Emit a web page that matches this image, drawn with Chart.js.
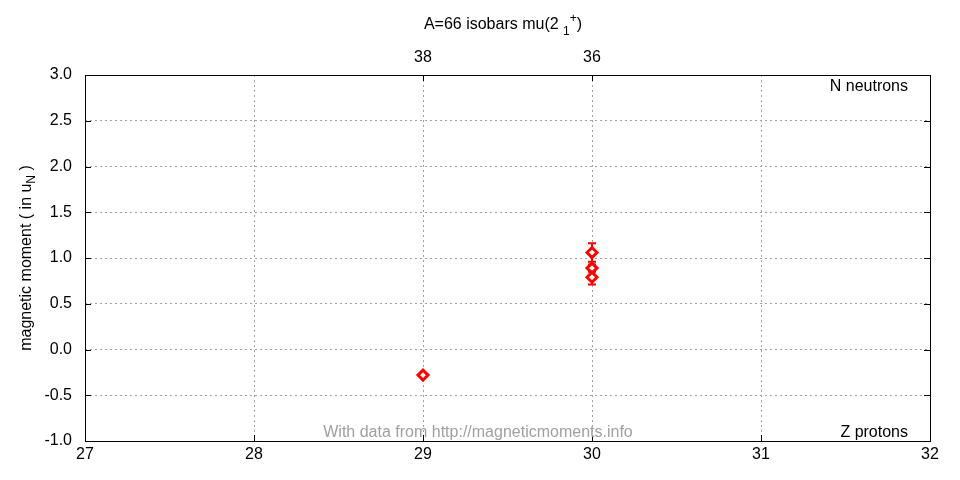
<!DOCTYPE html>
<html lang="en">
<head>
  <meta charset="UTF-8">
  <title>A=66 isobars mu(2 1+)</title>
  <script src="https://cdn.jsdelivr.net/npm/chart.js"></script>
  <style>
    body { margin: 0; background: #fff; }
    #wrap { width: 960px; height: 480px; }
  </style>
</head>
<body>
  <div id="wrap"><canvas id="myChart" width="960" height="480"></canvas></div>
  <script>
    // measured values (Z, moment, error)
    const protonZ = [29, 30, 30, 30];
    const moments = [-0.28, 1.06, 0.89, 0.79];
    const errors = [0.02, 0.10, 0.04, 0.08];
    // top axis: neutron labels at Z positions
    const topTickPos = [29, 30];
    const topTickLabels = ['38', '36'];

    const FONT = '"Liberation Sans", Arial, sans-serif';
    const FS = 16;

    const points = protonZ.map((z, i) => ({ x: z, y: moments[i] }));

    // error bars, frame, tick marks and extra labels
    const extras = {
      id: 'extras',
      beforeDatasetsDraw(chart) {
        const ctx = chart.ctx;
        const xs = chart.scales.x, ys = chart.scales.y;
        ctx.save();
        ctx.strokeStyle = '#ff0000';
        ctx.lineWidth = 2;
        points.forEach((p, i) => {
          const px = xs.getPixelForValue(p.x);
          const top = ys.getPixelForValue(p.y + errors[i]);
          const bot = ys.getPixelForValue(p.y - errors[i]);
          ctx.beginPath();
          ctx.moveTo(px, top); ctx.lineTo(px, bot);
          ctx.moveTo(px - 4, top); ctx.lineTo(px + 4, top);
          ctx.moveTo(px - 4, bot); ctx.lineTo(px + 4, bot);
          ctx.stroke();
        });
        ctx.restore();
      },
      afterDraw(chart) {
        const ctx = chart.ctx;
        const a = chart.chartArea;
        const xs = chart.scales.x, ys = chart.scales.y;
        ctx.save();
        // frame
        ctx.strokeStyle = '#000';
        ctx.lineWidth = 1;
        ctx.strokeRect(a.left + 0.5, a.top + 0.5, a.right - a.left, a.bottom - a.top);
        // inward tick marks
        ctx.beginPath();
        for (let v = 27; v <= 32; v++) {
          const px = Math.round(xs.getPixelForValue(v)) + 0.5;
          ctx.moveTo(px, a.bottom); ctx.lineTo(px, a.bottom - 6);
        }
        topTickPos.forEach(v => {
          const px = Math.round(xs.getPixelForValue(v)) + 0.5;
          ctx.moveTo(px, a.top); ctx.lineTo(px, a.top + 6);
        });
        for (let v = -1; v <= 3; v += 0.5) {
          const py = Math.round(ys.getPixelForValue(v)) + 0.5;
          ctx.moveTo(a.left, py); ctx.lineTo(a.left + 6, py);
          ctx.moveTo(a.right, py); ctx.lineTo(a.right - 6, py);
        }
        ctx.stroke();

        ctx.fillStyle = '#000';
        ctx.font = FS + 'px ' + FONT;
        ctx.textBaseline = 'alphabetic';
        // corner labels
        ctx.textAlign = 'right';
        ctx.fillText('N neutrons', a.right - 22, a.top + 16);
        ctx.fillText('Z protons', a.right - 22, a.bottom - 4);
        // watermark
        ctx.textAlign = 'center';
        ctx.fillStyle = '#a0a0a0';
        ctx.fillText('With data from http://magneticmoments.info', 478, a.bottom - 4);

        // title with sub/superscript
        ctx.fillStyle = '#000';
        ctx.textAlign = 'left';
        const t1 = 'A=66 isobars mu(2 ';
        const w1 = ctx.measureText(t1).width;
        ctx.font = '12px ' + FONT;
        const wSub = ctx.measureText('1').width;
        const wSup = ctx.measureText('+').width;
        ctx.font = FS + 'px ' + FONT;
        const w3 = ctx.measureText(')').width;
        let tx = 503 - (w1 + wSub + wSup + w3) / 2;
        ctx.fillText(t1, tx, 29);
        tx += w1;
        ctx.font = '12px ' + FONT;
        ctx.fillText('1', tx, 35);
        ctx.fillText('+', tx + wSub, 22);
        tx += wSub + wSup;
        ctx.font = FS + 'px ' + FONT;
        ctx.fillText(')', tx, 29);

        // y axis title, rotated, with subscript N
        ctx.translate(31, (a.top + a.bottom) / 2);
        ctx.rotate(-Math.PI / 2);
        const y1 = 'magnetic moment ( in u';
        const yw1 = ctx.measureText(y1).width;
        ctx.font = '12px ' + FONT;
        const ywN = ctx.measureText('N').width;
        ctx.font = FS + 'px ' + FONT;
        const yw3 = ctx.measureText(' )').width;
        let yx = -(yw1 + ywN + yw3) / 2;
        ctx.fillText(y1, yx, 0);
        yx += yw1;
        ctx.font = '12px ' + FONT;
        ctx.fillText('N', yx, 4);
        yx += ywN;
        ctx.font = FS + 'px ' + FONT;
        ctx.fillText(' )', yx, 0);
        ctx.restore();
      }
    };

    const ctx = document.getElementById('myChart').getContext('2d');
    const myChart = new Chart(ctx, {
      type: 'scatter',
      data: {
        datasets: [{
          data: points,
          pointStyle: 'rectRot',
          pointRadius: 5,
          pointHoverRadius: 5,
          borderColor: '#ff0000',
          borderWidth: 3,
          backgroundColor: '#ffffff',
          showLine: false
        }]
      },
      options: {
        responsive: false,
        animation: false,
        layout: { padding: { left: 0, right: 30, top: 0, bottom: 0 } },
        plugins: {
          legend: { display: false },
          tooltip: { enabled: false }
        },
        scales: {
          x: {
            type: 'linear',
            position: 'bottom',
            min: 27,
            max: 32,
            afterFit: s => { s.height = 39; },
            ticks: { stepSize: 1, color: '#000', font: { family: FONT, size: FS }, padding: 4 },
            grid: { color: '#a0a0a0', drawTicks: false },
            border: { display: false, dash: [2, 3] }
          },
          x2: {
            type: 'linear',
            position: 'top',
            min: 27,
            max: 32,
            afterFit: s => { s.height = 75; },
            afterBuildTicks: s => { s.ticks = topTickPos.map(v => ({ value: v })); },
            ticks: {
              color: '#000',
              font: { family: FONT, size: FS },
              padding: 8,
              callback: (v) => topTickLabels[topTickPos.indexOf(v)]
            },
            grid: { display: false, drawTicks: false },
            border: { display: false }
          },
          y: {
            min: -1,
            max: 3,
            afterFit: s => { s.width = 85; },
            ticks: {
              stepSize: 0.5,
              color: '#000',
              font: { family: FONT, size: FS },
              padding: 13,
              callback: v => v.toFixed(1)
            },
            grid: { color: '#a0a0a0', drawTicks: false },
            border: { display: false, dash: [2, 3] }
          }
        }
      },
      plugins: [extras]
    });
  </script>
</body>
</html>
